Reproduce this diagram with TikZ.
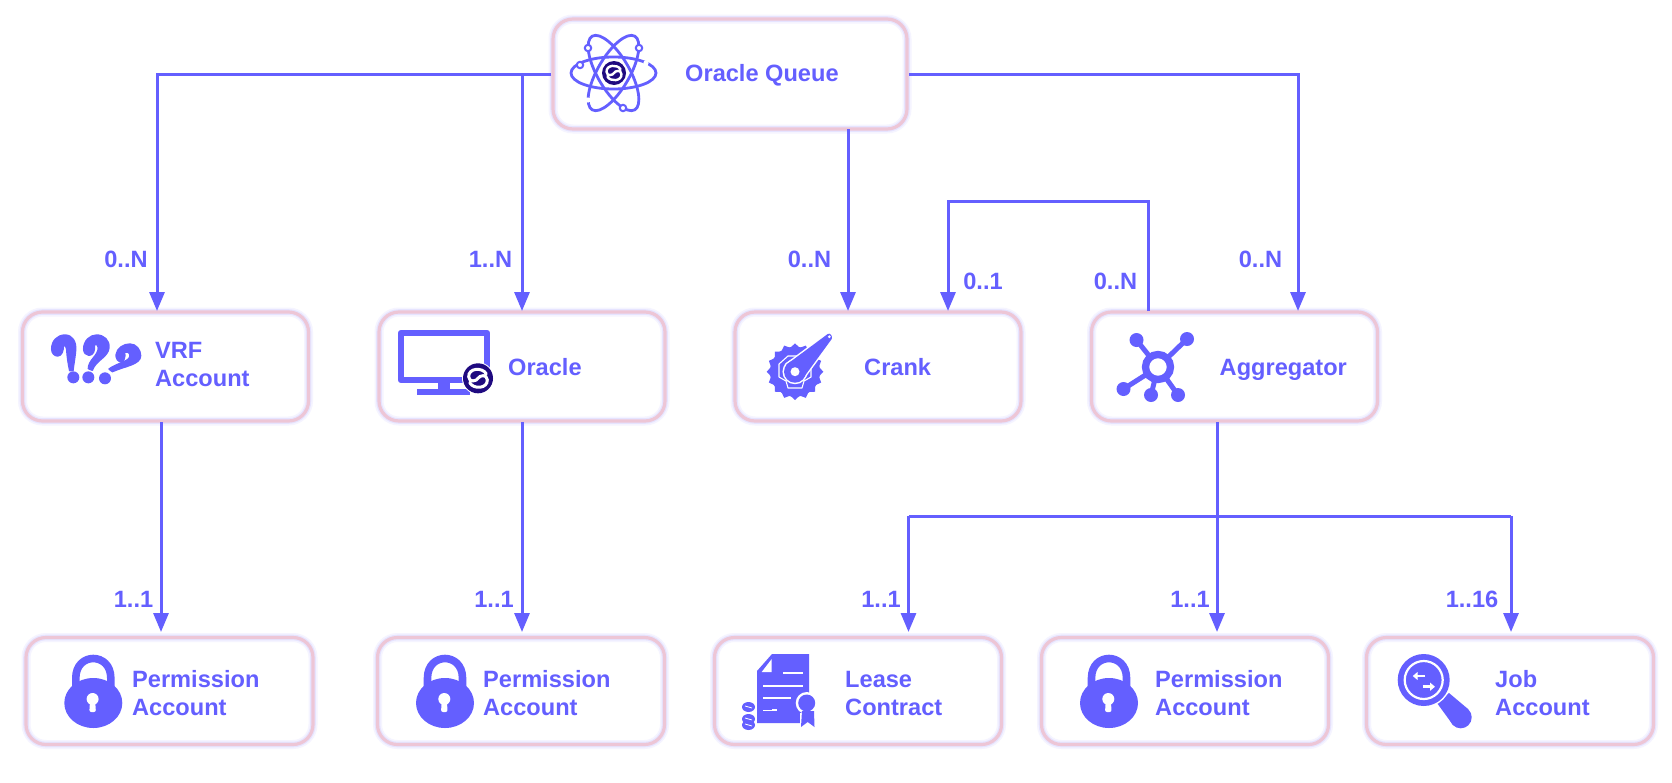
\documentclass[tikz,border=0pt]{standalone}
\usepackage{fontspec}
\setmainfont{Liberation Sans}
\usetikzlibrary{arrows.meta}
\definecolor{ink}{HTML}{645FFF}
\definecolor{rimpink}{HTML}{EDC6D6}
\definecolor{glowa}{HTML}{F5F4FF}
\definecolor{glowb}{HTML}{E6E4FF}
\definecolor{navy}{HTML}{1F0A80}
\newcommand{\slogo}[3]{%
  \begin{scope}[shift={(#1,#2)},x=#3pt,y=-#3pt]
    \fill[navy] (0,0) circle[radius=#3pt];
    \draw[white,line width=#3*0.2pt,line cap=round]
      (0.55,-0.3) .. controls (0.3,-0.75) and (-0.65,-0.7) .. (-0.62,-0.1)
      .. controls (-0.6,0.3) and (-0.1,0.2) .. (0,0)
      .. controls (0.1,-0.2) and (0.6,-0.3) .. (0.62,0.1)
      .. controls (0.65,0.7) and (-0.3,0.75) .. (-0.55,0.3);
  \end{scope}}
\newcommand{\lockicon}[1]{%
  \begin{scope}[shift={(#1,0)}]
    \draw[ink,line width=7.6pt] (-17.5,690) -- (-17.5,678) .. controls (-17.5,652) and (17.5,652) .. (17.5,678) -- (17.5,690);
    \fill[ink] (0,703) ellipse[x radius=29pt,y radius=25pt];
    \fill[white] (-0.7,699) circle[radius=6pt];
    \fill[white,rounded corners=2pt] (-3.2,700) -- (1.8,700) -- (2.6,712) -- (-4,712) -- cycle;
  \end{scope}}
\tikzset{
  acct/.style={rectangle,rounded corners=20pt,fill=white,draw=glowa,line width=9pt,
    outer sep=1.75pt,inner sep=0pt,
    postaction={draw=glowb,line width=5.6pt},
    postaction={draw=rimpink,line width=3.2pt}},
  midbox/.style={acct,minimum width=286pt,minimum height=109pt},
  lowbox/.style={acct,minimum width=287pt,minimum height=107pt},
  conn/.style={ink,line width=3pt},
  arr/.style={conn,-{Triangle[width=15pt,length=19pt]}},
  lbl/.style={text=ink,font=\fontsize{23.6}{28}\selectfont\bfseries,align=left,anchor=west,inner sep=0pt},
  mult/.style={text=ink,font=\fontsize{23.6}{28}\selectfont\bfseries,inner sep=0pt}
}
\begin{document}
\begin{tikzpicture}[x=1pt,y=-1pt]
\useasboundingbox (0,0) rectangle (1672,782);
\fill[white] (0,0) rectangle (1672,782);

% boxes
\node[acct,minimum width=354pt,minimum height=110pt] (queue) at (730,74) {};
\node[midbox] (vrf) at (165.5,366.5) {};
\node[midbox] (oracle) at (522,366.5) {};
\node[midbox] (crank) at (878,366.5) {};
\node[midbox] (aggr) at (1234.5,366.5) {};
\node[lowbox] (perma) at (169.5,691) {};
\node[lowbox] (permb) at (521,691) {};
\node[lowbox] (lease) at (858,691) {};
\node[lowbox] (permc) at (1185,691) {};
\node[lowbox] (job) at (1510,691) {};

% free ends
\coordinate (jl) at (522,74);
\coordinate (vrfin) at (157,311);
\coordinate (aggrin) at (1298,311);
\coordinate (crankin) at (848,311);
\coordinate (crankback) at (948,311);
\coordinate (aggrout) at (1148,311);
\coordinate (loopa) at (1148,201);
\coordinate (loopb) at (948,201);
\coordinate (vrfout) at (161,422);
\coordinate (vrfdown) at (161,632);
\coordinate (aggrdown) at (1217,422);
\coordinate (aggrdownb) at (1217,632);
\coordinate (busl) at (908.5,516);
\coordinate (busr) at (1511,516);
\coordinate (leasein) at (908.5,632);
\coordinate (jobin) at (1511,632);
\coordinate (oraclein) at (522,311);
\coordinate (oracleout) at (522,422);
\coordinate (oracledown) at (522,632);
\coordinate (crankout) at (848,129);

% connectors
\draw[arr] (queue.west) -| (vrfin);
\draw[arr] (jl) -- (oraclein);
\draw[arr] (crankout) -- (crankin);
\draw[arr] (queue.east) -| (aggrin);
\draw[arr] (aggrout) -- (loopa) -- (loopb) -- (crankback);
\draw[arr] (vrfout) -- (vrfdown);
\draw[arr] (oracleout) -- (oracledown);
\draw[arr] (aggrdown) -- (aggrdownb);
\draw[conn] (busl) -- (busr);
\draw[arr] (busl) -- (leasein);
\draw[arr] (busr) -- (jobin);

% labels in boxes
\node[lbl] (tq) at (685,75.5) {Oracle Queue};
\node[lbl] (tv) at (155,364) {VRF\\Account};
\node[lbl] (to) at (508,367) {Oracle};
\node[lbl] (tc) at (864,367) {Crank};
\node[lbl] (ta) at (1219.5,369.5) {Aggregator};
\node[lbl] (tpa) at (132,693.5) {Permission\\Account};
\node[lbl] (tpb) at (483,693.5) {Permission\\Account};
\node[lbl] (tl) at (845,693.5) {Lease\\Contract};
\node[lbl] (tpc) at (1155,693.5) {Permission\\Account};
\node[lbl] (tj) at (1495,693.5) {Job\\Account};

% multiplicities
\node[mult] (m1) at (126,259) {0..N};
\node[mult] (m2) at (490.5,259) {1..N};
\node[mult] (m3) at (809.5,259) {0..N};
\node[mult] (m4) at (983,281) {0..1};
\node[mult] (m5) at (1115.5,281) {0..N};
\node[mult] (m6) at (1260.5,259) {0..N};
\node[mult] (m7) at (133.5,599) {1..1};
\node[mult] (m8) at (494,599) {1..1};
\node[mult] (m9) at (881,599) {1..1};
\node[mult] (m10) at (1190,599) {1..1};
\node[mult] (m11) at (1472,599) {1..16};

% atom icon
\begin{scope}[ink,line width=2.8pt]
  \draw (613.5,73) ellipse[x radius=42.5pt,y radius=16pt];
  \draw[rotate around={60:(613.5,73)}] (613.5,73) ellipse[x radius=42.5pt,y radius=16pt];
  \draw[rotate around={-60:(613.5,73)}] (613.5,73) ellipse[x radius=42.5pt,y radius=16pt];
  \fill[white] (646,63) circle[radius=2.6pt];
  \fill[white] (588,100) circle[radius=2.6pt];
  \foreach \px/\py in {588/48,639/48,580/65,623/108}
    \draw[fill=white,line width=2pt] (\px,\py) circle[radius=3.2pt];
\end{scope}
\slogo{614}{73}{12}

% question marks icon
\begin{scope}[shift={(45,325)},x=.3333pt,y=-.3333pt,ink,line width=1.4pt,line join=round]
  \filldraw (20,72) .. controls (20,47) and (38,30) .. (60,30) .. controls (82,30) and (94,50) .. (92,75)
    .. controls (90,100) and (86,118) .. (84,137) -- (74,137) .. controls (70,118) and (66,95) .. (65,72)
    .. controls (65,64) and (60,60) .. (55,62) .. controls (56,76) and (50,93) .. (38,93)
    .. controls (28,93) and (20,84) .. (20,72) -- cycle;
  \filldraw (116,72) .. controls (116,47) and (135,30) .. (155,30) .. controls (177,30) and (194,46) .. (192,68)
    .. controls (189,98) and (152,105) .. (142,136) -- (130,131) .. controls (130,105) and (160,92) .. (160,68)
    .. controls (160,60) and (154,55) .. (148,59) .. controls (151,76) and (145,91) .. (132,91)
    .. controls (123,91) and (116,83) .. (116,72) -- cycle;
  \filldraw (213,90) .. controls (216,69) and (235,57) .. (255,57) .. controls (274,57) and (287,75) .. (287,92)
    .. controls (287,119) and (240,123) .. (202,140) -- (192,132) .. controls (216,114) and (255,110) .. (255,92)
    .. controls (255,83) and (245,78) .. (239,81) .. controls (242,98) and (236,110) .. (228,110)
    .. controls (219,110) and (213,101) .. (213,90) -- cycle;
  \fill (85,157) circle[radius=6pt];
  \fill (130,157) circle[radius=6pt];
  \fill (180,160) circle[radius=6pt];
\end{scope}

% monitor icon
\draw[ink,line width=6.5pt,line join=round] (401,333) rectangle (487,380);
\fill[ink] (438,382) rectangle (450,391);
\fill[ink] (417,389) rectangle (470,395);
\fill[white] (478,378.3) circle[radius=16pt];
\slogo{478}{378.3}{15}

% crank icon
\foreach \ang in {0,22.5,...,337.5}
  \fill[ink,rotate around={\ang:(795,371.7)}] (790,348) -- (795,343.4) -- (800,348) -- (800,352) -- (790,352) -- cycle;
\fill[ink] (795,371.7) circle[radius=25pt];
\draw[white,line width=1.1pt,line join=round] (779,364) -- (788,356) -- (803,356) -- (811,365) -- (811,377) -- (804,381) -- (802,388) -- (788,388) -- (786,381) -- (779,377) -- cycle;
\draw[white,line width=3pt,line join=round] (786,365) -- (827.7,334) .. controls (830,332.5) and (833,336) .. (831.7,339) -- (803,378.3) -- cycle;
\draw[white,line width=3pt] (795,371.7) circle[radius=11pt];
\fill[ink] (786,365) -- (827.7,334) .. controls (830,332.5) and (833,336) .. (831.7,339) -- (803,378.3) -- cycle;
\fill[ink] (795,371.7) circle[radius=11pt];
\fill[white] (795,371.7) circle[radius=4.5pt];
\fill[white] (829.3,336.7) circle[radius=1.5pt];

% aggregator icon
\begin{scope}[ink]
  \draw[line width=5pt] (1136.5,340) -- (1158,367) -- (1187,339);
  \draw[line width=5pt] (1123.5,389) -- (1158,367) -- (1151,395);
  \draw[line width=5pt] (1158,367) -- (1178,395);
  \fill[white] (1158,367) circle[radius=12.5pt];
  \draw[line width=7.3pt] (1158,367) circle[radius=12.5pt];
  \foreach \px/\py in {1136.5/340,1187/339,1123.5/389,1151/395,1178/395}
    \fill (\px,\py) circle[radius=7pt];
\end{scope}

% locks
\lockicon{93.3}
\lockicon{445}
\lockicon{1109}

% lease contract icon
\fill[ink] (772,654) -- (809,654) -- (809,723) -- (757,723) -- (757,671) -- cycle;
\fill[white] (771.7,659) -- (771.7,672) -- (761.7,672) -- cycle;
\draw[white,line width=2.2pt] (783,673) -- (803,673);
\draw[white,line width=2.2pt] (763,686) -- (803,686);
\draw[white,line width=2.2pt] (763,698) -- (791,698);
\draw[white,line width=1pt] (763,710) -- (772,710);
\draw[white,line width=2.2pt] (772,710) -- (776.7,710);
\fill[white] (806.7,703) circle[radius=11pt];
\fill[white] (800,713) rectangle (816,730);
\fill[ink] (802,711) -- (814,711) -- (814.5,727) -- (807.7,722) -- (801,727) -- cycle;
\fill[ink] (806.7,703) circle[radius=8.5pt];
\fill[white] (741,700) rectangle (757,732);
\foreach \cy in {707,719,725}{
  \fill[ink] (748.5,\cy) ellipse[x radius=6.5pt,y radius=5pt];
  \draw[white,line width=.8pt] (745,\cy-1) -- (752,\cy+1);}

% job account icon
\fill[ink] (1437,703) -- (1449,693) -- (1468,709) -- (1453,725) -- cycle;
\fill[ink] (1460.7,717.3) circle[radius=11pt];
\fill[white] (1423.7,680) circle[radius=27.5pt];
\fill[ink] (1423.7,680) circle[radius=26pt];
\draw[white,line width=2.2pt] (1423.7,680) circle[radius=19pt];
\draw[white,line width=2.6pt,-{Triangle[width=8pt,length=5pt]}] (1425,676) -- (1412.7,676);
\draw[white,line width=2.6pt,-{Triangle[width=8pt,length=5pt]}] (1422.7,686.7) -- (1435,686.7);
\end{tikzpicture}
\end{document}
